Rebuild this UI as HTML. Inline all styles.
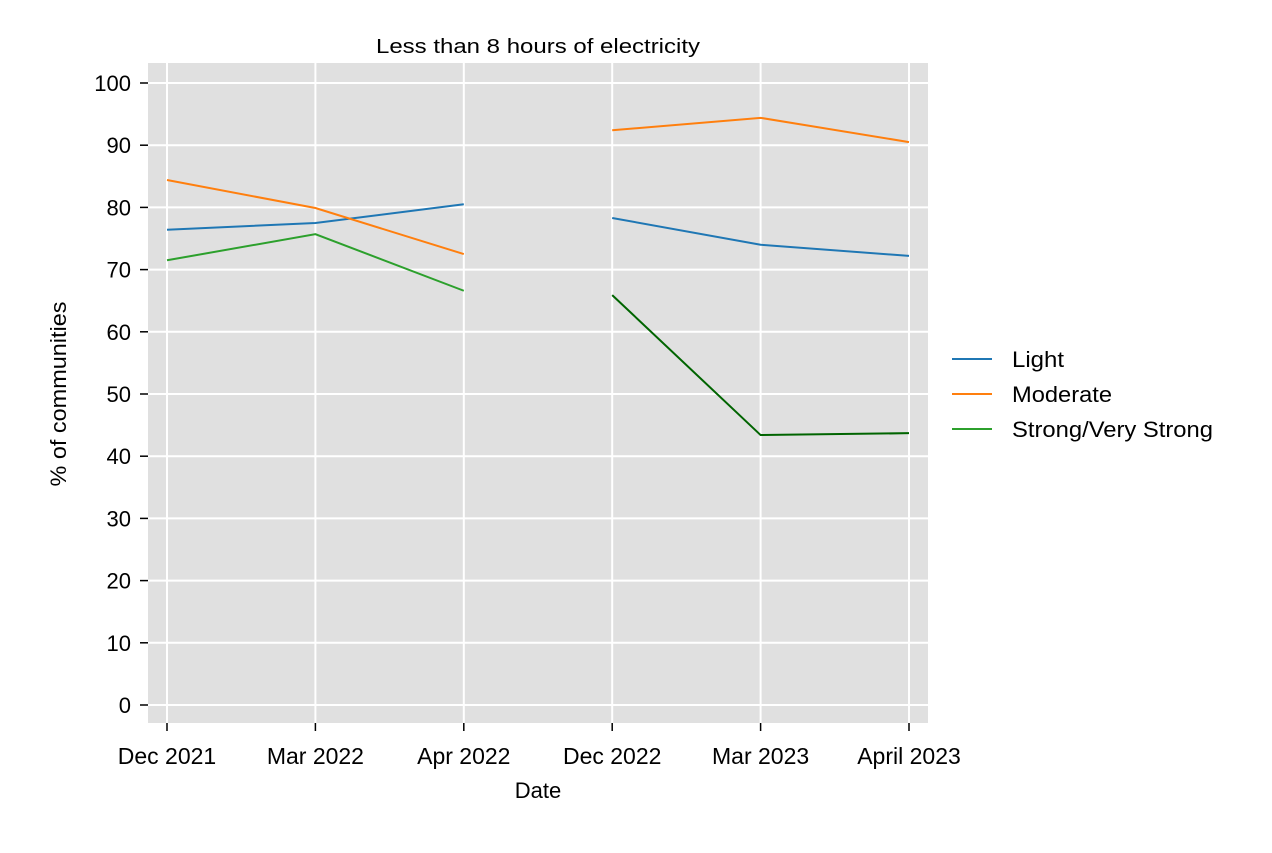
<!DOCTYPE html>
<html><head><meta charset="utf-8"><style>
body{margin:0;background:#fff}
svg text{font-family:"Liberation Sans",Arial,sans-serif;fill:#000}
</style></head><body>
<svg id="chart" width="1272" height="848" xmlns="http://www.w3.org/2000/svg">
<rect width="1272" height="848" fill="#fff"/>
<rect x="148" y="63" width="780" height="660" fill="#e0e0e0"/>
<g id="grid"></g><g id="series"></g><g id="axes"></g>
<text x="538" y="53" font-size="20" textLength="324" lengthAdjust="spacingAndGlyphs" text-anchor="middle">Less than 8 hours of electricity</text>
<text x="538" y="798" font-size="22" text-anchor="middle">Date</text>
<text transform="translate(66,394) rotate(-90)" font-size="22" textLength="185" lengthAdjust="spacingAndGlyphs" text-anchor="middle">% of communities</text>
<g>
<line x1="952" y1="359" x2="992" y2="359" stroke="#1f77b4" stroke-width="2"/><text x="1012" y="367" font-size="22" textLength="52" lengthAdjust="spacingAndGlyphs">Light</text>
<line x1="952" y1="394" x2="992" y2="394" stroke="#ff7f0e" stroke-width="2"/><text x="1012" y="402" font-size="22" textLength="100" lengthAdjust="spacingAndGlyphs">Moderate</text>
<line x1="952" y1="429" x2="992" y2="429" stroke="#2ca02c" stroke-width="2"/><text x="1012" y="437" font-size="22" textLength="201" lengthAdjust="spacingAndGlyphs">Strong/Very Strong</text>
</g>
</svg>
<script>
const categories=["Dec 2021","Mar 2022","Apr 2022","Dec 2022","Mar 2023","April 2023"];
const yTicks=[0,10,20,30,40,50,60,70,80,90,100];
const light=[76.4,77.5,80.5,78.3,74.0,72.2];
const moderate=[84.4,79.9,72.5,92.4,94.4,90.5];
const strong=[71.5,75.7,66.6,65.9,43.4,43.7];
const NS="http://www.w3.org/2000/svg";
function xs(i){return 167+i*148.4;}
function ys(v){return 705-v*6.22;}
function mk(tag,attrs,parent){const e=document.createElementNS(NS,tag);for(const k in attrs)e.setAttribute(k,attrs[k]);document.getElementById(parent).appendChild(e);return e;}
yTicks.forEach(t=>{
 let g=mk('line',{x1:148,x2:928,y1:ys(t),y2:ys(t),stroke:'#fff','stroke-width':2},'grid');
 
 
 let tk=mk('line',{x1:140,x2:148,y1:ys(t),y2:ys(t),stroke:'#000','stroke-width':1.5},'axes');
 
 
 let tx=mk('text',{x:131,y:ys(t)+8,'font-size':22,'text-anchor':'end'},'axes');tx.textContent=t;
 
 
});
categories.forEach((c,i)=>{
 let g=mk('line',{x1:xs(i),x2:xs(i),y1:63,y2:723,stroke:'#fff','stroke-width':2},'grid');
 
 
 let tk=mk('line',{x1:xs(i),x2:xs(i),y1:723,y2:731,stroke:'#000','stroke-width':1.5},'axes');
 
 
 let tx=mk('text',{x:xs(i),y:764,'font-size':23,'text-anchor':'middle'},'axes');tx.textContent=c;
 
 
});
function seg(vals,from,to,color,name){
 let p=[];for(let i=from;i<=to;i++)p.push(xs(i)+','+ys(vals[i]));
 let l=mk('polyline',{points:p.join(' '),fill:'none',stroke:color,'stroke-width':2},'series');
 
 
}
seg(light,0,2,'#1f77b4','light-line-2022');
seg(light,3,5,'#1f77b4','light-line-2023');
seg(moderate,0,2,'#ff7f0e','moderate-line-2022');
seg(moderate,3,5,'#ff7f0e','moderate-line-2023');
seg(strong,0,2,'#2ca02c','strong-line-2022');
seg(strong,3,5,'#006400','strong-line-2023');
</script>
</body></html>
